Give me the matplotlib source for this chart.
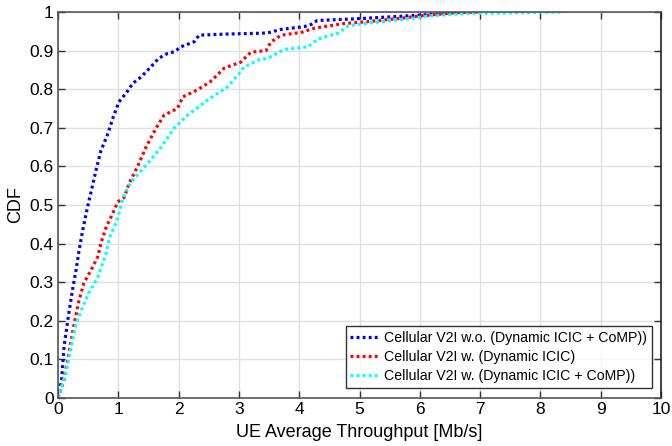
import matplotlib
matplotlib.use("Agg")
import matplotlib.pyplot as plt

plt.rcParams['font.family'] = ['Liberation Sans', 'DejaVu Sans']

blue_x = [0, 0.06, 0.10, 0.18, 0.24, 0.30, 0.35, 0.41, 0.49, 0.55, 0.63, 0.71, 0.83, 0.91, 1.01,
          1.13, 1.24, 1.38, 1.54, 1.67, 1.82, 1.93, 2.04, 2.26, 2.34, 2.82, 3.37, 3.48, 3.70,
          4.08, 4.20, 4.30, 5.02, 5.80, 6.30, 6.63]
blue_y = [0, 0.047, 0.133, 0.22, 0.28, 0.332, 0.383, 0.435, 0.495, 0.535, 0.59, 0.64, 0.686, 0.725, 0.767,
          0.79, 0.815, 0.832, 0.858, 0.88, 0.893, 0.897, 0.91, 0.923, 0.94, 0.943, 0.945, 0.946, 0.955,
          0.962, 0.968, 0.978, 0.983, 0.99, 0.995, 1.0]

red_x = [0, 0.10, 0.18, 0.27, 0.35, 0.43, 0.55, 0.66, 0.71, 0.80, 0.91, 0.99, 1.10, 1.18, 1.32,
         1.46, 1.63, 1.76, 1.98, 2.07, 2.31, 2.53, 2.76, 3.03, 3.20, 3.45, 3.53, 3.70, 4.03,
         4.25, 4.74, 5.14, 5.70, 6.02, 6.57, 6.97]
red_y = [0, 0.047, 0.116, 0.194, 0.254, 0.298, 0.332, 0.366, 0.40, 0.443, 0.479, 0.508, 0.52, 0.556, 0.60,
         0.65, 0.70, 0.733, 0.75, 0.78, 0.798, 0.82, 0.855, 0.87, 0.896, 0.90, 0.922, 0.94, 0.947,
         0.958, 0.97, 0.975, 0.984, 0.99, 0.998, 1.0]

cyan_x = [0, 0.13, 0.22, 0.30, 0.41, 0.51, 0.66, 0.74, 0.80, 0.85, 0.96, 1.01, 1.07, 1.16, 1.27,
          1.49, 1.71, 1.93, 2.15, 2.48, 2.81, 3.03, 3.08, 3.33, 3.48, 3.75, 4.15, 4.31, 4.64,
          4.81, 5.02, 5.47, 5.90, 6.14, 6.80, 8.34]
cyan_y = [0, 0.065, 0.133, 0.194, 0.236, 0.272, 0.313, 0.349, 0.375, 0.414, 0.453, 0.478, 0.513, 0.547, 0.57,
          0.608, 0.65, 0.70, 0.733, 0.772, 0.806, 0.845, 0.857, 0.876, 0.88, 0.903, 0.91, 0.93, 0.945,
          0.964, 0.969, 0.977, 0.984, 0.99, 0.996, 1.0]

labels = ['Cellular V2I w.o. (Dynamic ICIC + CoMP))',
          'Cellular V2I w. (Dynamic ICIC)',
          'Cellular V2I w. (Dynamic ICIC + CoMP))']
colors = ['#0000ff', '#ff0000', '#00ffff']

x_ticks = list(range(0, 11))
y_ticks = [i / 10 for i in range(0, 11)]
y_ticklabels = ['0'] + ['0.%d' % i for i in range(1, 10)] + ['1']

fig = plt.figure(figsize=(6.72, 4.46), dpi=100)
ax = fig.add_axes([58 / 672, 1 - 398 / 446, (661 - 58) / 672, (398 - 12) / 446])

for xs, ys, c, lab in zip([blue_x, red_x, cyan_x], [blue_y, red_y, cyan_y], colors, labels):
    ax.plot(xs, ys, color=c, lw=2.3, ls=(0, (0.9, 1.0)), label=lab, solid_capstyle='butt',
            dash_capstyle='butt')

ax.set_xlim(0, 10)
ax.set_ylim(0, 1)
ax.set_xticks(x_ticks)
ax.set_yticks(y_ticks)
ax.set_yticklabels(y_ticklabels)
ax.grid(True, color='#e0e0e0', lw=1.0)
ax.set_axisbelow(True)
ax.tick_params(direction='in', length=5, width=1, top=True, right=True, labelsize=12.5,
               color='#333333', pad=3)
for s in ax.spines.values():
    s.set_color('#555555')
    s.set_linewidth(1.2)
ax.spines['right'].set_color('#222222')
ax.set_xlabel('UE Average Throughput [Mb/s]', fontsize=13, labelpad=5)
ax.set_ylabel('CDF', fontsize=13, labelpad=4)

leg = ax.legend(loc='lower right', fontsize=10.2, frameon=True, fancybox=False,
                edgecolor='black', handlelength=2.0, handletextpad=0.4, borderpad=0.35,
                labelspacing=0.35, borderaxespad=0.4, bbox_to_anchor=(0.995, 0.012))
leg.get_frame().set_linewidth(1.0)

fig.savefig('out.png', dpi=100)
